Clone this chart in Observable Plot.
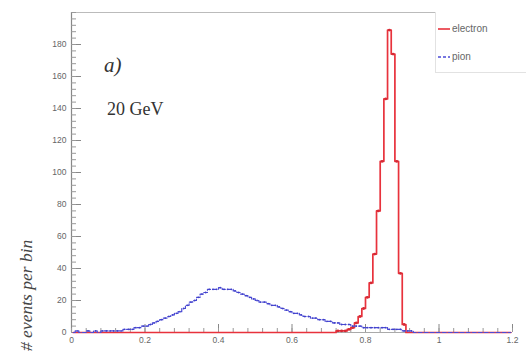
<!DOCTYPE html>
<html>
<head>
<meta charset="utf-8">
<script src="https://cdn.jsdelivr.net/npm/d3@7"></script>
<script src="https://cdn.jsdelivr.net/npm/@observablehq/plot@0.6"></script>
<style>
  html, body { margin: 0; padding: 0; background: #fff; }
  #wrap { position: relative; width: 526px; height: 354px; overflow: hidden; }
  .ov { position: absolute; white-space: nowrap; }
</style>
</head>
<body>
<div id="wrap"></div>
<script>
// bin lower edges: 0.00 .. 1.19, width 0.01
const binWidth = 0.01;
const pion = [
  0,1,0,0,1,0,1,0,1,1,
  1,1,1,1,2,2,2,3,3,4,
  4,5,6,7,8,9,10,11,12,13,
  15,17,19,20,22,24,25,27,27,27,
  28,27,27,27,26,25,24,23,22,21,
  20,19,19,18,17,17,16,15,14,13,
  12,12,11,10,10,9,9,8,8,7,
  7,6,6,5,5,5,4,4,4,3,
  3,3,3,3,3,3,2,2,2,2,
  1,1,1,0,0,0,0,0,0,0,
  0,0,0,0,0,0,0,0,0,0,
  0,0,0,0,0,0,0,0,0,0
];
const electron = [
  0,0,0,0,0,0,0,0,0,0,
  0,0,0,0,0,0,0,0,0,0,
  0,0,0,0,0,0,0,0,0,0,
  0,0,0,0,0,0,0,0,0,0,
  0,0,0,0,0,0,0,0,0,0,
  0,0,0,0,0,0,0,0,0,0,
  0,0,0,0,0,0,0,0,0,0,
  0,0,1,1,1,2,3,6,10,15,
  22,31,49,76,107,146,189,174,107,37,
  5,0,0,0,0,0,0,0,0,0,
  0,0,0,0,0,0,0,0,0,0,
  0,0,0,0,0,0,0,0,0,0
];
const xTicks = [0, 0.2, 0.4, 0.6, 0.8, 1, 1.2];
const xMinor = d3.range(0, 31).map(i => +(i * 0.04).toFixed(2));
const yTicks = [0, 20, 40, 60, 80, 100, 120, 140, 160, 180];
const yMinor = d3.range(0, 51).map(i => i * 4);
const seriesNames = ["electron", "pion"];
const seriesColors = ["#e8323c", "#4b4bd6"];

const rows = (vals, name) => vals.map((v, i) => ({x: +(i * binWidth + binWidth / 2).toFixed(3), y: v, s: name}));
const eRows = rows(electron, "electron");
const pRows = rows(pion, "pion");

const plot = Plot.plot({
  width: 526,
  height: 354,
  marginLeft: 71,
  marginRight: 14,
  marginTop: 12,
  marginBottom: 22,
  style: {fontFamily: "Liberation Sans, Arial, sans-serif", fontSize: "8.5px", color: "#666", background: "#fff"},
  x: {domain: [0, 1.2]},
  y: {domain: [0, 200]},
  marks: [
    Plot.ruleY([200], {stroke: "#bbb", strokeWidth: 1.2}),
    Plot.ruleX([0], {stroke: "#888", strokeWidth: 1.2}),
    Plot.ruleY([0], {stroke: "#aaa", strokeWidth: 1}),
    Plot.axisY({ticks: yTicks, tickSize: -10, tickPadding: 15, stroke: "#888", fill: "#666", label: null, tickFormat: d => String(d)}),
    Plot.axisY({ticks: yMinor, tickSize: -5, stroke: "#999", text: null, label: null}),
    Plot.axisX({ticks: xTicks, tickSize: -8, tickPadding: 12, stroke: "#888", fill: "#666", label: null, tickFormat: d => String(d)}),
    Plot.axisX({ticks: xMinor, tickSize: -4, stroke: "#999", text: null, label: null}),
    Plot.line(eRows, {x: "x", y: "y", curve: "step", stroke: seriesColors[0], strokeWidth: 1.7}),
    Plot.dot(eRows.filter(d => d.y > 0), {x: "x", y: "y", r: 1.4, fill: "#d42a35", stroke: "none"}),
    Plot.line(pRows, {x: "x", y: "y", curve: "step", stroke: seriesColors[1], strokeWidth: 1.2, strokeDasharray: "4,2"}),
    Plot.dot(pRows.filter(d => d.y > 0), {x: "x", y: "y", r: 0.9, fill: "#4040c8", stroke: "none"})
  ]
});

const wrap = document.getElementById("wrap");
wrap.appendChild(plot);

function ov(html, css) {
  const d = document.createElement("div");
  d.className = "ov";
  d.innerHTML = html;
  Object.assign(d.style, css);
  wrap.appendChild(d);
  return d;
}

// annotations
ov("a)", {left: "104px", top: "53px", font: "italic 21px 'Liberation Serif', 'DejaVu Serif', serif", color: "#333"});
ov("20 GeV", {left: "107px", top: "99px", font: "18px 'Liberation Serif', 'DejaVu Serif', serif", color: "#333"});

// y axis title (rotated)
ov("# events per bin", {left: "17px", top: "351px", font: "italic 17.5px 'Liberation Serif', 'DejaVu Serif', serif", color: "#444",
  transform: "rotate(-90deg)", transformOrigin: "0 0", lineHeight: "19px"});

// legend
const leg = ov("", {left: "435px", top: "12px", width: "90px", height: "60px", borderLeft: "1px solid #e2e2e2", borderBottom: "1px solid #e2e2e2", background: "#fff"});
seriesNames.forEach((name, i) => {
  const row = document.createElement("div");
  Object.assign(row.style, {position: "absolute", left: "2px", top: (i === 0 ? 11 : 39) + "px", display: "flex", alignItems: "center",
    font: "10px 'Liberation Sans', Arial, sans-serif", color: "#666"});
  row.innerHTML = `<svg width="12" height="6" style="margin-right:2px"><line x1="0" x2="12" y1="3" y2="3" stroke="${seriesColors[i]}" stroke-width="${i === 0 ? 1.6 : 1.3}" ${i === 1 ? 'stroke-dasharray="3,2"' : ''}/></svg><span>${name}</span>`;
  leg.appendChild(row);
});
</script>
</body>
</html>
